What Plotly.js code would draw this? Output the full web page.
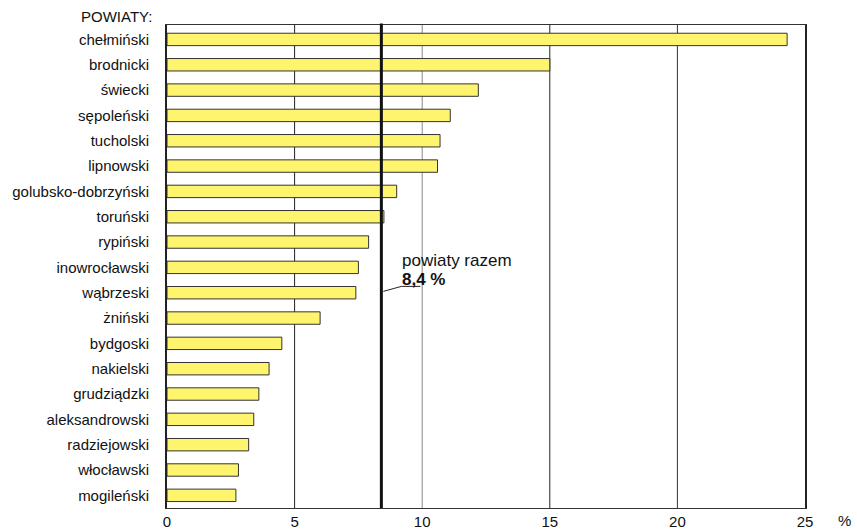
<!DOCTYPE html>
<html>
<head>
<meta charset="utf-8">
<script src="https://cdn.plot.ly/plotly-3.0.1.min.js"></script>
<style>html,body{margin:0;padding:0;background:#fff}#chart{width:857px;height:532px}</style>
</head>
<body>
<div id="chart"></div>
<script>
const categories = ["chełmiński","brodnicki","świecki","sępoleński","tucholski","lipnowski","golubsko-dobrzyński","toruński","rypiński","inowrocławski","wąbrzeski","żniński","bydgoski","nakielski","grudziądzki","aleksandrowski","radziejowski","włocławski","mogileński"];
const values = [24.3,15.0,12.2,11.1,10.7,10.6,9.0,8.5,7.9,7.5,7.4,6.0,4.5,4.0,3.6,3.4,3.2,2.8,2.7];
const averageValue = 8.4;
const averageLabel = "powiaty razem";
const averageText = "8,4 %";
const xTicks = [0,5,10,15,20,25];
const gridValues = [5,10,15,20];
const gridColors = ["#222","#888","#222","#333"];

const font = "Liberation Sans, Arial, sans-serif";

const trace = {
  type: "bar",
  orientation: "h",
  x: values,
  y: categories,
  width: 0.49,
  marker: {color: "#FFF46E", line: {color: "#333", width: 1}},
  hoverinfo: "x+y"
};

const shapes = gridValues.map((v, i) => ({
  type: "line", xref: "x", yref: "paper", x0: v, x1: v, y0: 0, y1: 1,
  line: {color: gridColors[i], width: 1}, layer: "below"
}));
shapes.push({
  type: "line", xref: "x", yref: "paper", x0: averageValue, x1: averageValue, y0: 0, y1: 1.003,
  line: {color: "#111", width: 3}, layer: "above"
});

const layout = {
  width: 857, height: 532,
  margin: {l: 167, r: 52, t: 25, b: 24},
  paper_bgcolor: "#fff", plot_bgcolor: "#fff",
  showlegend: false,
  font: {family: font, color: "#111", size: 15},
  xaxis: {
    range: [0, 25], tickvals: xTicks, ticktext: xTicks.map(String),
    showgrid: false, zeroline: false, ticks: "",
    showline: true, linecolor: "#333", linewidth: 1, mirror: true,
    ticklabelstandoff: 0,
    tickfont: {size: 15, family: font, color: "#111"},
    automargin: false, fixedrange: true
  },
  yaxis: {
    type: "category", range: [18.5, -0.57], autorange: false,
    showgrid: false, zeroline: false, ticks: "",
    showline: true, linecolor: "#222", linewidth: 2, mirror: true,
    ticklabelstandoff: 13,
    tickfont: {size: 15, family: font, color: "#111"},
    automargin: false, fixedrange: true
  },
  shapes: shapes,
  annotations: [
    {xref: "paper", yref: "paper", x: 0, y: 1, xanchor: "right", yanchor: "bottom",
     xshift: -13, yshift: -2, text: "POWIATY:", showarrow: false,
     font: {size: 15, family: font, color: "#111"}},
    {xref: "paper", yref: "paper", x: 1, y: 0, xanchor: "left", yanchor: "top",
     xshift: 31, yshift: -2, text: "%", showarrow: false,
     font: {size: 15, family: font, color: "#111"}},
    {xref: "x", yref: "y", x: averageValue, y: categories[9], xanchor: "left", yanchor: "middle",
     xshift: 19, yshift: 7, text: averageLabel, showarrow: false,
     font: {size: 17, family: font, color: "#111"}},
    {xref: "x", yref: "y", x: averageValue, y: categories[9], xanchor: "left", yanchor: "middle",
     xshift: 19, yshift: -12, text: "<b>" + averageText + "</b>", showarrow: false,
     font: {size: 17, family: font, color: "#111"}}
  ]
};

Plotly.newPlot("chart", [trace], layout, {displayModeBar: false, staticPlot: true}).then(function(gd){
  const xa = gd._fullLayout.xaxis, ya = gd._fullLayout.yaxis;
  const px = xa._offset + xa.l2p(averageValue);
  const py = ya._offset + ya.l2p(9);
  const ns = "http://www.w3.org/2000/svg";
  const p = document.createElementNS(ns, "polyline");
  p.setAttribute("points", (px+2)+","+(py+24)+" "+(px+20)+","+(py+19)+" "+(px+39)+","+(py+19));
  p.setAttribute("fill", "none");
  p.setAttribute("stroke", "#222");
  p.setAttribute("stroke-width", "1");
  gd.querySelector(".main-svg").appendChild(p);
});
</script>
</body>
</html>
